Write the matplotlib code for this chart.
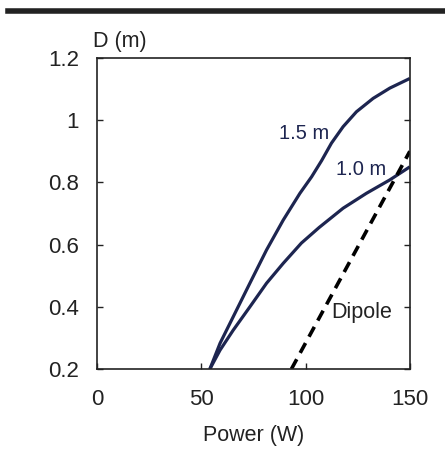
import matplotlib
matplotlib.use("Agg")
import matplotlib.pyplot as plt
from matplotlib.lines import Line2D

plt.rcParams['font.family'] = ['Liberation Sans', 'DejaVu Sans']

# Data
power_15 = [54.1, 59.0, 65.3, 73.3, 81.3, 89.3, 97.3, 102.9, 107.7, 112.4, 118.0, 124.4, 132.4, 140.4, 150.0]
d_15 = [0.20, 0.283, 0.368, 0.476, 0.583, 0.679, 0.765, 0.818, 0.870, 0.926, 0.979, 1.027, 1.070, 1.103, 1.134]

power_10 = [54.1, 59.0, 65.3, 73.3, 81.3, 89.3, 98.0, 106.5, 118.0, 129.2, 140.4, 150.0]
d_10 = [0.20, 0.261, 0.325, 0.400, 0.476, 0.540, 0.605, 0.655, 0.717, 0.765, 0.808, 0.850]

power_dip = [93.2, 150.0]
d_dip = [0.20, 0.90]

xticks = [0, 50, 100, 150]
yticks = [0.2, 0.4, 0.6, 0.8, 1.0, 1.2]
yticklabels = ['0.2', '0.4', '0.6', '0.8', '1', '1.2']

navy = '#1d2550'
ink = '#222222'

fig = plt.figure(figsize=(4.45, 4.49), dpi=100)
ax = fig.add_axes([0.218, 0.178, 0.703, 0.693])

ax.plot(power_15, d_15, color=navy, lw=2.3, solid_capstyle='butt')
ax.plot(power_10, d_10, color=navy, lw=2.3, solid_capstyle='butt')
ax.plot(power_dip, d_dip, color='black', lw=2.6, dashes=(3.1, 2.0))

ax.set_xlim(0, 150)
ax.set_ylim(0.2, 1.2)
ax.set_xticks(xticks)
ax.set_xticklabels([str(v) for v in xticks])
ax.set_yticks(yticks)
ax.set_yticklabels(yticklabels)

ax.tick_params(axis='both', direction='in', length=4, width=1, labelsize=16, colors=ink)
ax.tick_params(axis='y', right=True, pad=13)
ax.tick_params(axis='x', pad=14)
for s in ax.spines.values():
    s.set_linewidth(1.2)
    s.set_color(ink)

ax.text(99.3, 0.956, '1.5 m', color=navy, fontsize=14.5, ha='center', va='center')
ax.text(126.5, 0.84, '1.0 m', color=navy, fontsize=14.5, ha='center', va='center')
ax.text(127, 0.383, 'Dipole', color=ink, fontsize=15.5, ha='center', va='center')

ax.text(-0.013, 1.018, 'D (m)', transform=ax.transAxes, fontsize=15.5, ha='left', va='bottom', color=ink)
fig.text(254 / 445, 1 - 435 / 449, 'Power (W)', fontsize=15.5, ha='center', va='center', color=ink)

fig.add_artist(Line2D([8 / 445, 1.0], [1 - 10.5 / 449, 1 - 10.5 / 449], color=ink, lw=4, transform=fig.transFigure))

fig.savefig('out.png', dpi=100)
